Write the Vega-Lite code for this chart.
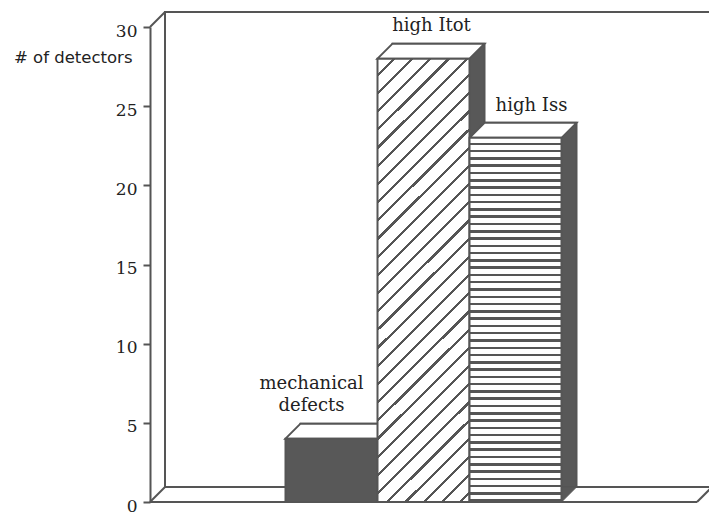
{
  "$schema": "https://vega.github.io/schema/vega-lite/v6.json",
  "width": 547,
  "height": 475,
  "autosize": {"type": "none"},
  "padding": {"left": 150, "top": 27, "right": 12, "bottom": 17},
  "background": "#ffffff",
  "view": {"stroke": null},
  "config": {
    "font": "DejaVu Serif",
    "axisY": {
      "grid": false,
      "domainColor": "#555555",
      "domainWidth": 2,
      "tickColor": "#555555",
      "tickWidth": 2,
      "tickSize": 7,
      "labelFont": "DejaVu Serif",
      "labelFontSize": 17,
      "labelColor": "#222222",
      "labelPadding": 6,
      "labelOffset": 4,
      "titleAngle": 0,
      "titleAlign": "right",
      "titleBaseline": "alphabetic",
      "titleX": -18,
      "titleY": 35,
      "titleFont": "DejaVu Sans",
      "titleFontSize": 16.5,
      "titleFontWeight": "normal",
      "titleColor": "#222222"
    }
  },
  "data": {
    "values": [
      {"defect": "mechanical defects", "count": 4},
      {"defect": "high Itot", "count": 28},
      {"defect": "high Iss", "count": 23}
    ]
  },
  "resolve": {"scale": {"x": "independent"}},
  "layer": [
    {
      "data": {"values": [{}]},
      "mark": {"type": "rect", "fill": "#ffffff", "stroke": "#555555", "strokeWidth": 2, "xOffset": 15, "x2Offset": 15, "yOffset": -15, "y2Offset": -15},
      "encoding": {
        "x": {"datum": 0, "type": "quantitative", "scale": {"domain": [0, 1]}, "axis": null},
        "x2": {"datum": 1},
        "y": {"datum": 0, "type": "quantitative", "scale": {"domain": [0, 30], "nice": false}, "axis": {"values": [0, 5, 10, 15, 20, 25, 30], "title": "# of detectors"}},
        "y2": {"datum": 30}
      }
    },
    {
      "data": {"values": [{}]},
      "mark": {"type": "rule", "stroke": "#555555", "strokeWidth": 2},
      "encoding": {
        "x": {"datum": 0, "type": "quantitative", "scale": {"domain": [0, 1]}, "axis": null},
        "x2": {"datum": 1},
        "y": {"datum": 0, "type": "quantitative", "axis": {"values": [0, 5, 10, 15, 20, 25, 30], "title": "# of detectors"}}
      }
    },
    {
      "data": {"values": [{}]},
      "mark": {"type": "rule", "stroke": "#555555", "strokeWidth": 2, "x2Offset": 15, "y2Offset": -15},
      "encoding": {
        "x": {"datum": 0, "type": "quantitative", "scale": {"domain": [0, 1]}, "axis": null},
        "x2": {"datum": 0},
        "y": {"datum": 0, "type": "quantitative", "axis": {"values": [0, 5, 10, 15, 20, 25, 30], "title": "# of detectors"}},
        "y2": {"datum": 0}
      }
    },
    {
      "data": {"values": [{}]},
      "mark": {"type": "rule", "stroke": "#555555", "strokeWidth": 2, "x2Offset": 15, "y2Offset": -15},
      "encoding": {
        "x": {"datum": 1, "type": "quantitative", "scale": {"domain": [0, 1]}, "axis": null},
        "x2": {"datum": 1},
        "y": {"datum": 0, "type": "quantitative", "axis": {"values": [0, 5, 10, 15, 20, 25, 30], "title": "# of detectors"}},
        "y2": {"datum": 0}
      }
    },
    {
      "data": {"values": [{}]},
      "mark": {"type": "rule", "stroke": "#555555", "strokeWidth": 2, "x2Offset": 15, "y2Offset": -15},
      "encoding": {
        "x": {"datum": 0, "type": "quantitative", "scale": {"domain": [0, 1]}, "axis": null},
        "x2": {"datum": 0},
        "y": {"datum": 30, "type": "quantitative", "axis": {"values": [0, 5, 10, 15, 20, 25, 30], "title": "# of detectors"}},
        "y2": {"datum": 30}
      }
    },
    {
      "encoding": {
        "x": {
          "field": "defect",
          "type": "nominal",
          "sort": null,
          "scale": {"domain": ["mechanical defects", "high Itot", "high Iss"], "range": [135.5, 411.5], "paddingInner": 0, "paddingOuter": 0},
          "axis": null
        }
      },
      "layer": [
        {
          "mark": {"type": "bar", "fill": "#585858", "stroke": "#555555", "strokeWidth": 2, "xOffset": 15, "x2Offset": 15, "yOffset": -15, "y2Offset": -15},
          "encoding": {"y": {"field": "count", "type": "quantitative", "axis": {"values": [0, 5, 10, 15, 20, 25, 30], "title": "# of detectors"}}}
        },
        {
          "mark": {"type": "point", "shape": "M46 -15 L61 -15 L46 0 Z", "size": 4, "filled": true, "fill": "#585858", "stroke": "#555555", "strokeWidth": 1, "opacity": 1},
          "encoding": {"y": {"datum": 0, "type": "quantitative", "axis": {"values": [0, 5, 10, 15, 20, 25, 30], "title": "# of detectors"}}}
        },
        {
          "mark": {"type": "point", "shape": "M-46 0 L-31 -15 L61 -15 L46 0 Z", "size": 4, "filled": true, "fill": "#ffffff", "stroke": "#555555", "strokeWidth": 2, "opacity": 1},
          "encoding": {"y": {"field": "count", "type": "quantitative", "axis": {"values": [0, 5, 10, 15, 20, 25, 30], "title": "# of detectors"}}}
        },
        {
          "mark": {"type": "bar", "stroke": "#555555", "strokeWidth": 2},
          "encoding": {
            "y": {"field": "count", "type": "quantitative", "axis": {"values": [0, 5, 10, 15, 20, 25, 30], "title": "# of detectors"}},
            "fill": {
              "condition": [
                {
                  "test": "datum.defect === 'high Itot'",
                  "value": {
                    "gradient": "linear", "x1": 0, "y1": 0, "x2": 0.2392, "y2": 1.1572,
                    "stops": [
                      {"offset": 0, "color": "#ffffff"}, {"offset": 0.028, "color": "#ffffff"}, {"offset": 0.028, "color": "#555555"}, {"offset": 0.034, "color": "#555555"},
                      {"offset": 0.034, "color": "#ffffff"}, {"offset": 0.062, "color": "#ffffff"}, {"offset": 0.062, "color": "#555555"}, {"offset": 0.068, "color": "#555555"},
                      {"offset": 0.068, "color": "#ffffff"}, {"offset": 0.096, "color": "#ffffff"}, {"offset": 0.096, "color": "#555555"}, {"offset": 0.102, "color": "#555555"},
                      {"offset": 0.102, "color": "#ffffff"}, {"offset": 0.13, "color": "#ffffff"}, {"offset": 0.13, "color": "#555555"}, {"offset": 0.136, "color": "#555555"},
                      {"offset": 0.136, "color": "#ffffff"}, {"offset": 0.164, "color": "#ffffff"}, {"offset": 0.164, "color": "#555555"}, {"offset": 0.17, "color": "#555555"},
                      {"offset": 0.17, "color": "#ffffff"}, {"offset": 0.198, "color": "#ffffff"}, {"offset": 0.198, "color": "#555555"}, {"offset": 0.204, "color": "#555555"},
                      {"offset": 0.204, "color": "#ffffff"}, {"offset": 0.232, "color": "#ffffff"}, {"offset": 0.232, "color": "#555555"}, {"offset": 0.238, "color": "#555555"},
                      {"offset": 0.238, "color": "#ffffff"}, {"offset": 0.266, "color": "#ffffff"}, {"offset": 0.266, "color": "#555555"}, {"offset": 0.272, "color": "#555555"},
                      {"offset": 0.272, "color": "#ffffff"}, {"offset": 0.3, "color": "#ffffff"}, {"offset": 0.3, "color": "#555555"}, {"offset": 0.306, "color": "#555555"},
                      {"offset": 0.306, "color": "#ffffff"}, {"offset": 0.334, "color": "#ffffff"}, {"offset": 0.334, "color": "#555555"}, {"offset": 0.34, "color": "#555555"},
                      {"offset": 0.34, "color": "#ffffff"}, {"offset": 0.368, "color": "#ffffff"}, {"offset": 0.368, "color": "#555555"}, {"offset": 0.374, "color": "#555555"},
                      {"offset": 0.374, "color": "#ffffff"}, {"offset": 0.402, "color": "#ffffff"}, {"offset": 0.402, "color": "#555555"}, {"offset": 0.408, "color": "#555555"},
                      {"offset": 0.408, "color": "#ffffff"}, {"offset": 0.436, "color": "#ffffff"}, {"offset": 0.436, "color": "#555555"}, {"offset": 0.442, "color": "#555555"},
                      {"offset": 0.442, "color": "#ffffff"}, {"offset": 0.47, "color": "#ffffff"}, {"offset": 0.47, "color": "#555555"}, {"offset": 0.476, "color": "#555555"},
                      {"offset": 0.476, "color": "#ffffff"}, {"offset": 0.504, "color": "#ffffff"}, {"offset": 0.504, "color": "#555555"}, {"offset": 0.51, "color": "#555555"},
                      {"offset": 0.51, "color": "#ffffff"}, {"offset": 0.538, "color": "#ffffff"}, {"offset": 0.538, "color": "#555555"}, {"offset": 0.544, "color": "#555555"},
                      {"offset": 0.544, "color": "#ffffff"}, {"offset": 0.572, "color": "#ffffff"}, {"offset": 0.572, "color": "#555555"}, {"offset": 0.578, "color": "#555555"},
                      {"offset": 0.578, "color": "#ffffff"}, {"offset": 0.606, "color": "#ffffff"}, {"offset": 0.606, "color": "#555555"}, {"offset": 0.612, "color": "#555555"},
                      {"offset": 0.612, "color": "#ffffff"}, {"offset": 0.64, "color": "#ffffff"}, {"offset": 0.64, "color": "#555555"}, {"offset": 0.646, "color": "#555555"},
                      {"offset": 0.646, "color": "#ffffff"}, {"offset": 0.674, "color": "#ffffff"}, {"offset": 0.674, "color": "#555555"}, {"offset": 0.68, "color": "#555555"},
                      {"offset": 0.68, "color": "#ffffff"}, {"offset": 0.708, "color": "#ffffff"}, {"offset": 0.708, "color": "#555555"}, {"offset": 0.714, "color": "#555555"},
                      {"offset": 0.714, "color": "#ffffff"}, {"offset": 0.742, "color": "#ffffff"}, {"offset": 0.742, "color": "#555555"}, {"offset": 0.748, "color": "#555555"},
                      {"offset": 0.748, "color": "#ffffff"}, {"offset": 0.776, "color": "#ffffff"}, {"offset": 0.776, "color": "#555555"}, {"offset": 0.782, "color": "#555555"},
                      {"offset": 0.782, "color": "#ffffff"}, {"offset": 0.81, "color": "#ffffff"}, {"offset": 0.81, "color": "#555555"}, {"offset": 0.816, "color": "#555555"},
                      {"offset": 0.816, "color": "#ffffff"}, {"offset": 0.844, "color": "#ffffff"}, {"offset": 0.844, "color": "#555555"}, {"offset": 0.85, "color": "#555555"},
                      {"offset": 0.85, "color": "#ffffff"}, {"offset": 0.878, "color": "#ffffff"}, {"offset": 0.878, "color": "#555555"}, {"offset": 0.884, "color": "#555555"},
                      {"offset": 0.884, "color": "#ffffff"}, {"offset": 0.912, "color": "#ffffff"}, {"offset": 0.912, "color": "#555555"}, {"offset": 0.918, "color": "#555555"},
                      {"offset": 0.918, "color": "#ffffff"}, {"offset": 0.946, "color": "#ffffff"}, {"offset": 0.946, "color": "#555555"}, {"offset": 0.952, "color": "#555555"},
                      {"offset": 0.952, "color": "#ffffff"}, {"offset": 0.98, "color": "#ffffff"}, {"offset": 0.98, "color": "#555555"}, {"offset": 0.986, "color": "#555555"},
                      {"offset": 0.986, "color": "#ffffff"}, {"offset": 1, "color": "#ffffff"}
                    ]
                  }
                },
                {
                  "test": "datum.defect === 'high Iss'",
                  "value": {
                    "gradient": "linear", "x1": 0, "y1": 0, "x2": 0, "y2": 1,
                    "stops": [
                      {"offset": 0, "color": "#ffffff"}, {"offset": 0.013, "color": "#ffffff"}, {"offset": 0.013, "color": "#555555"}, {"offset": 0.02, "color": "#555555"},
                      {"offset": 0.02, "color": "#ffffff"}, {"offset": 0.033, "color": "#ffffff"}, {"offset": 0.033, "color": "#555555"}, {"offset": 0.04, "color": "#555555"},
                      {"offset": 0.04, "color": "#ffffff"}, {"offset": 0.053, "color": "#ffffff"}, {"offset": 0.053, "color": "#555555"}, {"offset": 0.06, "color": "#555555"},
                      {"offset": 0.06, "color": "#ffffff"}, {"offset": 0.073, "color": "#ffffff"}, {"offset": 0.073, "color": "#555555"}, {"offset": 0.08, "color": "#555555"},
                      {"offset": 0.08, "color": "#ffffff"}, {"offset": 0.093, "color": "#ffffff"}, {"offset": 0.093, "color": "#555555"}, {"offset": 0.1, "color": "#555555"},
                      {"offset": 0.1, "color": "#ffffff"}, {"offset": 0.113, "color": "#ffffff"}, {"offset": 0.113, "color": "#555555"}, {"offset": 0.12, "color": "#555555"},
                      {"offset": 0.12, "color": "#ffffff"}, {"offset": 0.133, "color": "#ffffff"}, {"offset": 0.133, "color": "#555555"}, {"offset": 0.14, "color": "#555555"},
                      {"offset": 0.14, "color": "#ffffff"}, {"offset": 0.153, "color": "#ffffff"}, {"offset": 0.153, "color": "#555555"}, {"offset": 0.16, "color": "#555555"},
                      {"offset": 0.16, "color": "#ffffff"}, {"offset": 0.173, "color": "#ffffff"}, {"offset": 0.173, "color": "#555555"}, {"offset": 0.18, "color": "#555555"},
                      {"offset": 0.18, "color": "#ffffff"}, {"offset": 0.193, "color": "#ffffff"}, {"offset": 0.193, "color": "#555555"}, {"offset": 0.2, "color": "#555555"},
                      {"offset": 0.2, "color": "#ffffff"}, {"offset": 0.213, "color": "#ffffff"}, {"offset": 0.213, "color": "#555555"}, {"offset": 0.22, "color": "#555555"},
                      {"offset": 0.22, "color": "#ffffff"}, {"offset": 0.233, "color": "#ffffff"}, {"offset": 0.233, "color": "#555555"}, {"offset": 0.24, "color": "#555555"},
                      {"offset": 0.24, "color": "#ffffff"}, {"offset": 0.253, "color": "#ffffff"}, {"offset": 0.253, "color": "#555555"}, {"offset": 0.26, "color": "#555555"},
                      {"offset": 0.26, "color": "#ffffff"}, {"offset": 0.273, "color": "#ffffff"}, {"offset": 0.273, "color": "#555555"}, {"offset": 0.28, "color": "#555555"},
                      {"offset": 0.28, "color": "#ffffff"}, {"offset": 0.293, "color": "#ffffff"}, {"offset": 0.293, "color": "#555555"}, {"offset": 0.3, "color": "#555555"},
                      {"offset": 0.3, "color": "#ffffff"}, {"offset": 0.313, "color": "#ffffff"}, {"offset": 0.313, "color": "#555555"}, {"offset": 0.32, "color": "#555555"},
                      {"offset": 0.32, "color": "#ffffff"}, {"offset": 0.333, "color": "#ffffff"}, {"offset": 0.333, "color": "#555555"}, {"offset": 0.34, "color": "#555555"},
                      {"offset": 0.34, "color": "#ffffff"}, {"offset": 0.353, "color": "#ffffff"}, {"offset": 0.353, "color": "#555555"}, {"offset": 0.36, "color": "#555555"},
                      {"offset": 0.36, "color": "#ffffff"}, {"offset": 0.373, "color": "#ffffff"}, {"offset": 0.373, "color": "#555555"}, {"offset": 0.38, "color": "#555555"},
                      {"offset": 0.38, "color": "#ffffff"}, {"offset": 0.393, "color": "#ffffff"}, {"offset": 0.393, "color": "#555555"}, {"offset": 0.4, "color": "#555555"},
                      {"offset": 0.4, "color": "#ffffff"}, {"offset": 0.413, "color": "#ffffff"}, {"offset": 0.413, "color": "#555555"}, {"offset": 0.42, "color": "#555555"},
                      {"offset": 0.42, "color": "#ffffff"}, {"offset": 0.433, "color": "#ffffff"}, {"offset": 0.433, "color": "#555555"}, {"offset": 0.44, "color": "#555555"},
                      {"offset": 0.44, "color": "#ffffff"}, {"offset": 0.453, "color": "#ffffff"}, {"offset": 0.453, "color": "#555555"}, {"offset": 0.46, "color": "#555555"},
                      {"offset": 0.46, "color": "#ffffff"}, {"offset": 0.473, "color": "#ffffff"}, {"offset": 0.473, "color": "#555555"}, {"offset": 0.48, "color": "#555555"},
                      {"offset": 0.48, "color": "#ffffff"}, {"offset": 0.493, "color": "#ffffff"}, {"offset": 0.493, "color": "#555555"}, {"offset": 0.5, "color": "#555555"},
                      {"offset": 0.5, "color": "#ffffff"}, {"offset": 0.513, "color": "#ffffff"}, {"offset": 0.513, "color": "#555555"}, {"offset": 0.52, "color": "#555555"},
                      {"offset": 0.52, "color": "#ffffff"}, {"offset": 0.533, "color": "#ffffff"}, {"offset": 0.533, "color": "#555555"}, {"offset": 0.54, "color": "#555555"},
                      {"offset": 0.54, "color": "#ffffff"}, {"offset": 0.553, "color": "#ffffff"}, {"offset": 0.553, "color": "#555555"}, {"offset": 0.56, "color": "#555555"},
                      {"offset": 0.56, "color": "#ffffff"}, {"offset": 0.573, "color": "#ffffff"}, {"offset": 0.573, "color": "#555555"}, {"offset": 0.58, "color": "#555555"},
                      {"offset": 0.58, "color": "#ffffff"}, {"offset": 0.593, "color": "#ffffff"}, {"offset": 0.593, "color": "#555555"}, {"offset": 0.6, "color": "#555555"},
                      {"offset": 0.6, "color": "#ffffff"}, {"offset": 0.613, "color": "#ffffff"}, {"offset": 0.613, "color": "#555555"}, {"offset": 0.62, "color": "#555555"},
                      {"offset": 0.62, "color": "#ffffff"}, {"offset": 0.633, "color": "#ffffff"}, {"offset": 0.633, "color": "#555555"}, {"offset": 0.64, "color": "#555555"},
                      {"offset": 0.64, "color": "#ffffff"}, {"offset": 0.653, "color": "#ffffff"}, {"offset": 0.653, "color": "#555555"}, {"offset": 0.66, "color": "#555555"},
                      {"offset": 0.66, "color": "#ffffff"}, {"offset": 0.673, "color": "#ffffff"}, {"offset": 0.673, "color": "#555555"}, {"offset": 0.68, "color": "#555555"},
                      {"offset": 0.68, "color": "#ffffff"}, {"offset": 0.693, "color": "#ffffff"}, {"offset": 0.693, "color": "#555555"}, {"offset": 0.7, "color": "#555555"},
                      {"offset": 0.7, "color": "#ffffff"}, {"offset": 0.713, "color": "#ffffff"}, {"offset": 0.713, "color": "#555555"}, {"offset": 0.72, "color": "#555555"},
                      {"offset": 0.72, "color": "#ffffff"}, {"offset": 0.733, "color": "#ffffff"}, {"offset": 0.733, "color": "#555555"}, {"offset": 0.74, "color": "#555555"},
                      {"offset": 0.74, "color": "#ffffff"}, {"offset": 0.753, "color": "#ffffff"}, {"offset": 0.753, "color": "#555555"}, {"offset": 0.76, "color": "#555555"},
                      {"offset": 0.76, "color": "#ffffff"}, {"offset": 0.773, "color": "#ffffff"}, {"offset": 0.773, "color": "#555555"}, {"offset": 0.78, "color": "#555555"},
                      {"offset": 0.78, "color": "#ffffff"}, {"offset": 0.793, "color": "#ffffff"}, {"offset": 0.793, "color": "#555555"}, {"offset": 0.8, "color": "#555555"},
                      {"offset": 0.8, "color": "#ffffff"}, {"offset": 0.813, "color": "#ffffff"}, {"offset": 0.813, "color": "#555555"}, {"offset": 0.82, "color": "#555555"},
                      {"offset": 0.82, "color": "#ffffff"}, {"offset": 0.833, "color": "#ffffff"}, {"offset": 0.833, "color": "#555555"}, {"offset": 0.84, "color": "#555555"},
                      {"offset": 0.84, "color": "#ffffff"}, {"offset": 0.853, "color": "#ffffff"}, {"offset": 0.853, "color": "#555555"}, {"offset": 0.86, "color": "#555555"},
                      {"offset": 0.86, "color": "#ffffff"}, {"offset": 0.873, "color": "#ffffff"}, {"offset": 0.873, "color": "#555555"}, {"offset": 0.88, "color": "#555555"},
                      {"offset": 0.88, "color": "#ffffff"}, {"offset": 0.893, "color": "#ffffff"}, {"offset": 0.893, "color": "#555555"}, {"offset": 0.9, "color": "#555555"},
                      {"offset": 0.9, "color": "#ffffff"}, {"offset": 0.913, "color": "#ffffff"}, {"offset": 0.913, "color": "#555555"}, {"offset": 0.92, "color": "#555555"},
                      {"offset": 0.92, "color": "#ffffff"}, {"offset": 0.933, "color": "#ffffff"}, {"offset": 0.933, "color": "#555555"}, {"offset": 0.94, "color": "#555555"},
                      {"offset": 0.94, "color": "#ffffff"}, {"offset": 0.953, "color": "#ffffff"}, {"offset": 0.953, "color": "#555555"}, {"offset": 0.96, "color": "#555555"},
                      {"offset": 0.96, "color": "#ffffff"}, {"offset": 0.973, "color": "#ffffff"}, {"offset": 0.973, "color": "#555555"}, {"offset": 0.98, "color": "#555555"},
                      {"offset": 0.98, "color": "#ffffff"}, {"offset": 0.993, "color": "#ffffff"}, {"offset": 0.993, "color": "#555555"}, {"offset": 1, "color": "#555555"}
                    ]
                  }
                }
              ],
              "value": "#585858"
            }
          }
        },
        {
          "transform": [{"filter": "datum.defect === 'high Itot'"}],
          "mark": {"type": "text", "font": "DejaVu Serif", "fontSize": 18, "color": "#222222", "align": "center", "baseline": "alphabetic", "dx": 8, "dy": -28},
          "encoding": {"y": {"field": "count", "type": "quantitative", "axis": {"values": [0, 5, 10, 15, 20, 25, 30], "title": "# of detectors"}}, "text": {"field": "defect"}}
        },
        {
          "transform": [{"filter": "datum.defect === 'high Iss'"}],
          "mark": {"type": "text", "font": "DejaVu Serif", "fontSize": 18, "color": "#222222", "align": "center", "baseline": "alphabetic", "dx": 16, "dy": -27},
          "encoding": {"y": {"field": "count", "type": "quantitative", "axis": {"values": [0, 5, 10, 15, 20, 25, 30], "title": "# of detectors"}}, "text": {"field": "defect"}}
        },
        {
          "transform": [{"filter": "datum.defect === 'mechanical defects'"}],
          "mark": {"type": "text", "font": "DejaVu Serif", "fontSize": 18, "color": "#222222", "align": "center", "baseline": "alphabetic", "lineBreak": " ", "lineHeight": 22, "dx": -20, "dy": -50},
          "encoding": {"y": {"field": "count", "type": "quantitative", "axis": {"values": [0, 5, 10, 15, 20, 25, 30], "title": "# of detectors"}}, "text": {"field": "defect"}}
        }
      ]
    }
  ]
}
